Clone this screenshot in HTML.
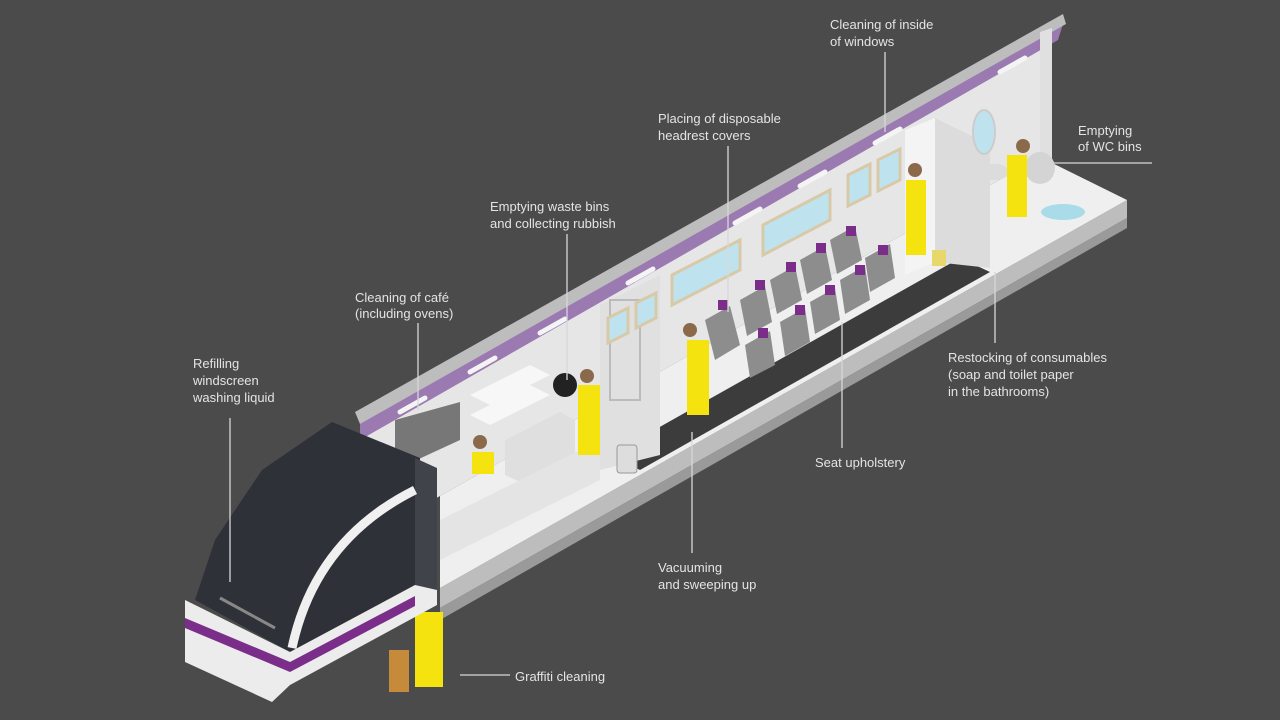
<!DOCTYPE html>
<html><head><meta charset="utf-8"><style>
html,body{margin:0;padding:0;background:#4b4b4b;}
svg{display:block}
text{font-family:"Liberation Sans",sans-serif;font-size:13px;fill:#e4e4e4;}
</style></head><body>
<svg width="1280" height="720" viewBox="0 0 1280 720" xmlns="http://www.w3.org/2000/svg">
<rect width="1280" height="720" fill="#4b4b4b"/>
<polygon points="440,588 1127,200 1127,218 440,608" fill="#bdbdbd"/>
<polygon points="440,608 1127,218 1127,228 440,620" fill="#9a9a9a"/>
<polygon points="360,420 1050,30 1040,157 440,496 360,540" fill="#e6e6e6"/>
<polygon points="360,422 1063,24 1058,40 360,440" fill="#9a7ab0"/>
<polygon points="355,412 1063,14 1066,24 360,424" fill="#bdbdbd"/>
<g stroke="#f4f4f4" stroke-width="5" stroke-linecap="round">
<line x1="400" y1="412" x2="425" y2="398"/><line x1="470" y1="372" x2="495" y2="358"/>
<line x1="540" y1="333" x2="565" y2="319"/><line x1="628" y1="283" x2="653" y2="269"/>
<line x1="735" y1="223" x2="760" y2="209"/><line x1="800" y1="186" x2="825" y2="172"/>
<line x1="875" y1="143" x2="900" y2="129"/><line x1="1000" y1="72" x2="1025" y2="58"/>
</g>
<polygon points="1040,32 1052,28 1052,162 1040,157" fill="#e0e0e0"/>
<polygon points="440,496 1040,157 1127,200 440,588" fill="#efefef"/>
<polygon points="610,455 960,258 990,272 640,470" fill="#3c3c3c"/>
<polygon points="905,130 935,118 935,262 905,275" fill="#f4f4f4"/>
<polygon points="935,118 990,145 990,268 935,262" fill="#dcdcdc"/>
<polygon points="600,305 660,275 660,455 600,470" fill="#e0e0e0"/>
<rect x="610" y="300" width="30" height="100" fill="none" stroke="#bbb" stroke-width="2"/>
<g fill="#bfe3ee" stroke="#d8c9a8" stroke-width="3">
<polygon points="672,275 740,240 740,270 672,305"/>
<polygon points="763,225 830,190 830,220 763,255"/>
<polygon points="848,175 870,164 870,195 848,206"/>
<polygon points="878,160 900,149 900,180 878,191"/>
<polygon points="608,318 628,308 628,333 608,343"/>
<polygon points="636,303 656,293 656,318 636,328"/>
</g>
<ellipse cx="984" cy="132" rx="11" ry="22" fill="#bfe3ee" stroke="#ccc" stroke-width="2"/>
<ellipse cx="1040" cy="168" rx="15" ry="16" fill="#d4d4d4"/>
<ellipse cx="995" cy="172" rx="14" ry="8" fill="#dcdcdc"/>
<ellipse cx="1063" cy="212" rx="22" ry="8" fill="#a9dbe8"/>
<g fill="#8d8d8d">
<polygon points="705,320 730,306 740,345 715,360"/><polygon points="745,345 770,331 775,365 750,378"/>
<polygon points="740,300 765,286 772,322 747,336"/><polygon points="780,322 805,308 810,342 785,356"/>
<polygon points="770,280 795,266 802,300 777,314"/><polygon points="810,302 835,288 840,320 815,334"/>
<polygon points="800,260 825,246 832,280 807,294"/><polygon points="840,280 865,266 870,300 845,314"/>
<polygon points="830,240 855,226 862,260 837,274"/><polygon points="865,258 890,244 895,278 870,292"/>
</g>
<g fill="#7a2e8a">
<rect x="718" y="300" width="10" height="10"/><rect x="755" y="280" width="10" height="10"/>
<rect x="786" y="262" width="10" height="10"/><rect x="816" y="243" width="10" height="10"/>
<rect x="846" y="226" width="10" height="10"/><rect x="758" y="328" width="10" height="10"/>
<rect x="795" y="305" width="10" height="10"/><rect x="825" y="285" width="10" height="10"/>
<rect x="855" y="265" width="10" height="10"/><rect x="878" y="245" width="10" height="10"/>
</g>
<polygon points="470,395 530,365 550,375 490,405" fill="#f7f7f7"/>
<polygon points="470,415 530,385 550,395 490,425" fill="#f7f7f7"/>
<polygon points="505,440 560,412 575,420 575,455 520,482 505,475" fill="#dfdfdf"/>
<polygon points="395,420 460,402 460,440 395,470" fill="#777"/>
<polygon points="440,520 600,440 600,480 440,560" fill="#e4e4e4"/>
<rect x="617" y="445" width="20" height="28" rx="3" fill="#ddd" stroke="#999"/>
<rect x="932" y="250" width="14" height="16" fill="#e8d76a"/>
<g fill="#f5e30f">
<rect x="578" y="385" width="22" height="70"/>
<rect x="687" y="340" width="22" height="75"/>
<rect x="906" y="180" width="20" height="75"/>
<rect x="1007" y="155" width="20" height="62"/>
<rect x="472" y="452" width="22" height="22"/>
<rect x="415" y="612" width="28" height="75"/>
</g>
<g fill="#8a6a4a"><circle cx="587" cy="376" r="7"/><circle cx="690" cy="330" r="7"/><circle cx="915" cy="170" r="7"/><circle cx="1023" cy="146" r="7"/><circle cx="480" cy="442" r="7"/><circle cx="428" cy="600" r="7"/></g>
<ellipse cx="565" cy="385" rx="12" ry="12" fill="#222"/>
<rect x="389" y="650" width="20" height="42" fill="#c58a3a"/>
<polygon points="332,422 420,458 415,585 290,652 195,600 215,540 262,470" fill="#2f3138"/>
<polygon points="415,458 437,468 437,598 415,588" fill="#404349"/>
<polygon points="185,600 290,652 415,585 437,590 437,605 290,685 272,702 185,662" fill="#ececec"/>
<polygon points="185,618 290,662 415,596 415,606 290,672 185,628" fill="#7a2e8a"/>
<path d="M292,648 Q315,540 415,490" stroke="#f0f0f0" stroke-width="9" fill="none"/>
<line x1="220" y1="598" x2="275" y2="628" stroke="#888" stroke-width="3"/>
<g stroke="#d8d8d8" stroke-width="1.3">
<line x1="885" y1="52" x2="885" y2="132"/>
<line x1="728" y1="146" x2="728" y2="312"/>
<line x1="567" y1="234" x2="567" y2="380"/>
<line x1="418" y1="323" x2="418" y2="410"/>
<line x1="230" y1="418" x2="230" y2="582"/>
<line x1="1053" y1="163" x2="1152" y2="163"/>
<line x1="995" y1="272" x2="995" y2="343"/>
<line x1="842" y1="322" x2="842" y2="448"/>
<line x1="692" y1="432" x2="692" y2="553"/>
<line x1="460" y1="675" x2="510" y2="675"/>
</g>
<text x="830" y="29">Cleaning of inside</text><text x="830" y="46">of windows</text>
<text x="658" y="123">Placing of disposable</text><text x="658" y="140">headrest covers</text>
<text x="490" y="211">Emptying waste bins</text><text x="490" y="228">and collecting rubbish</text>
<text x="355" y="302">Cleaning of café</text><text x="355" y="318">(including ovens)</text>
<text x="193" y="368">Refilling</text><text x="193" y="385">windscreen</text><text x="193" y="402">washing liquid</text>
<text x="1078" y="135">Emptying</text><text x="1078" y="151">of WC bins</text>
<text x="948" y="362">Restocking of consumables</text><text x="948" y="379">(soap and toilet paper</text><text x="948" y="396">in the bathrooms)</text>
<text x="815" y="467">Seat upholstery</text>
<text x="658" y="572">Vacuuming</text><text x="658" y="589">and sweeping up</text>
<text x="515" y="681">Graffiti cleaning</text>
</svg>
</body></html>
